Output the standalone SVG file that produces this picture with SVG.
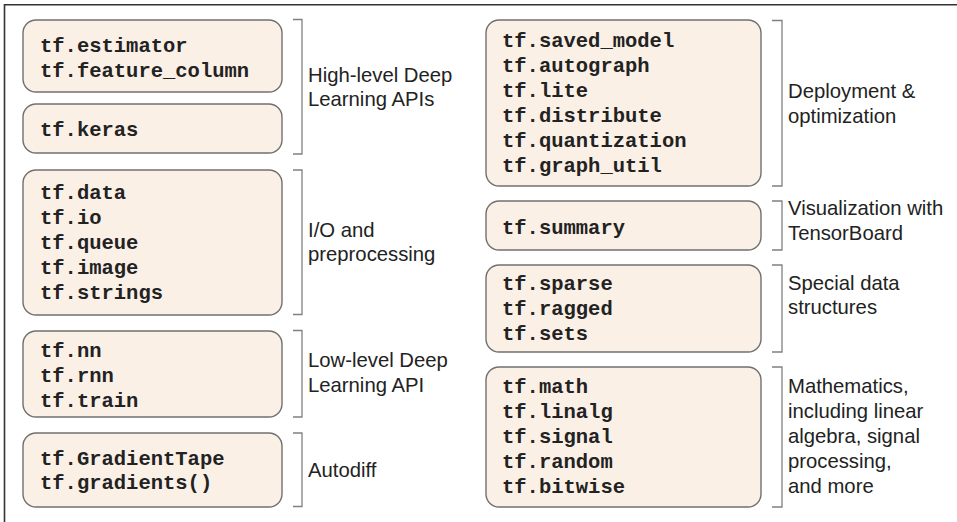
<svg xmlns="http://www.w3.org/2000/svg" width="957" height="522" viewBox="0 0 957 522">
<style>
.box{fill:#fbf0e6;stroke:#707070;stroke-width:1.4}
.br{fill:none;stroke:#808080;stroke-width:1.3}
.code{font-family:"Liberation Mono","Courier New",monospace;font-weight:bold;font-size:20.5px;fill:#222}
.lbl{font-family:"Liberation Sans",Arial,sans-serif;font-size:20.3px;fill:#222}
</style>
<rect width="957" height="522" fill="#fff"/>
<path d="M4.5 522V4.8H957" fill="none" stroke="#333" stroke-width="1.6"/>
<g id="high-level">
<rect class="box" x="23" y="20" width="259" height="72" rx="13"/>
<text class="code" x="40" y="52">tf.estimator</text>
<text class="code" x="40" y="77">tf.feature_column</text>
<rect class="box" x="23" y="104" width="259" height="49" rx="13"/>
<text class="code" x="40" y="136">tf.keras</text>
<path class="br" d="M293 19.5H302V154H293"/>
<text class="lbl" x="308" y="82">High-level Deep</text>
<text class="lbl" x="308" y="106">Learning APIs</text>
</g>
<g id="io">
<rect class="box" x="23" y="170" width="259" height="145" rx="13"/>
<text class="code" x="40" y="199">tf.data</text>
<text class="code" x="40" y="224">tf.io</text>
<text class="code" x="40" y="249">tf.queue</text>
<text class="code" x="40" y="274">tf.image</text>
<text class="code" x="40" y="299">tf.strings</text>
<path class="br" d="M293 170H302V314.5H293"/>
<text class="lbl" x="308" y="237">I/O and</text>
<text class="lbl" x="308" y="261">preprocessing</text>
</g>
<g id="low-level">
<rect class="box" x="23" y="331" width="259" height="86" rx="13"/>
<text class="code" x="40" y="357">tf.nn</text>
<text class="code" x="40" y="382">tf.rnn</text>
<text class="code" x="40" y="407">tf.train</text>
<path class="br" d="M293 330.5H302V417H293"/>
<text class="lbl" x="308" y="367">Low-level Deep</text>
<text class="lbl" x="308" y="392">Learning API</text>
</g>
<g id="autodiff">
<rect class="box" x="23" y="433" width="259" height="74" rx="13"/>
<text class="code" x="40" y="465">tf.GradientTape</text>
<text class="code" x="40" y="489">tf.gradients()</text>
<path class="br" d="M293 433H302V506.5H293"/>
<text class="lbl" x="308" y="477">Autodiff</text>
</g>
<g id="deployment">
<rect class="box" x="486" y="20" width="275" height="166" rx="13"/>
<text class="code" x="502" y="47">tf.saved_model</text>
<text class="code" x="502" y="72">tf.autograph</text>
<text class="code" x="502" y="97">tf.lite</text>
<text class="code" x="502" y="122">tf.distribute</text>
<text class="code" x="502" y="147">tf.quantization</text>
<text class="code" x="502" y="172">tf.graph_util</text>
<path class="br" d="M772 20.5H782V186H772"/>
<text class="lbl" x="788" y="98">Deployment &amp;</text>
<text class="lbl" x="788" y="123">optimization</text>
</g>
<g id="visualization">
<rect class="box" x="486" y="201" width="275" height="49" rx="13"/>
<text class="code" x="502" y="234">tf.summary</text>
<path class="br" d="M772 201H782V250H772"/>
<text class="lbl" x="788" y="215">Visualization with</text>
<text class="lbl" x="788" y="240">TensorBoard</text>
</g>
<g id="special">
<rect class="box" x="486" y="265" width="275" height="87" rx="13"/>
<text class="code" x="502" y="290">tf.sparse</text>
<text class="code" x="502" y="315">tf.ragged</text>
<text class="code" x="502" y="340">tf.sets</text>
<path class="br" d="M772 265H782V352H772"/>
<text class="lbl" x="788" y="290">Special data</text>
<text class="lbl" x="788" y="314">structures</text>
</g>
<g id="math">
<rect class="box" x="486" y="367" width="275" height="140" rx="13"/>
<text class="code" x="502" y="393">tf.math</text>
<text class="code" x="502" y="418">tf.linalg</text>
<text class="code" x="502" y="443">tf.signal</text>
<text class="code" x="502" y="468">tf.random</text>
<text class="code" x="502" y="493">tf.bitwise</text>
<path class="br" d="M772 367H782V507H772"/>
<text class="lbl" x="788" y="393">Mathematics,</text>
<text class="lbl" x="788" y="418">including linear</text>
<text class="lbl" x="788" y="443">algebra, signal</text>
<text class="lbl" x="788" y="468">processing,</text>
<text class="lbl" x="788" y="493">and more</text>
</g>
<g id="connectors"></g>
</svg>
